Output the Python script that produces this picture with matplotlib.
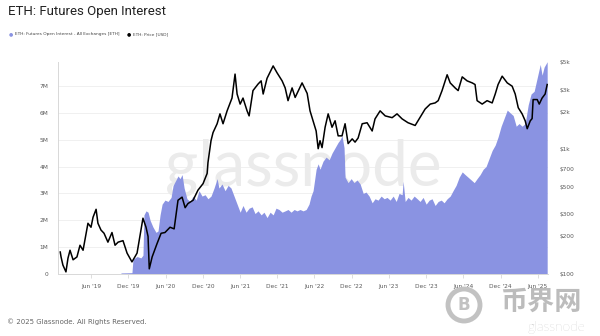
import numpy as np
import pandas as pd
import matplotlib
matplotlib.use('Agg')
import matplotlib.pyplot as plt
import matplotlib.dates as mdates
from matplotlib.patches import Ellipse
from matplotlib.ticker import FixedLocator, NullLocator, FuncFormatter

# ETH futures open interest, all exchanges (million ETH)
oi_dates = [
    '2019-10-26', '2019-12-19', '2019-12-24', '2020-01-13', '2020-02-01', '2020-02-11',
    '2020-02-16', '2020-02-26', '2020-03-07', '2020-03-17', '2020-03-31', '2020-04-15',
    '2020-04-25', '2020-05-05', '2020-05-15', '2020-05-29', '2020-06-13', '2020-06-28',
    '2020-07-08', '2020-07-22', '2020-08-01', '2020-08-11', '2020-08-21', '2020-08-31',
    '2020-09-14', '2020-09-29', '2020-10-14', '2020-10-29', '2020-11-12', '2020-11-27',
    '2020-12-12', '2020-12-26', '2021-01-10', '2021-01-25', '2021-02-09', '2021-02-18',
    '2021-03-05', '2021-03-20', '2021-04-04', '2021-04-18', '2021-05-03', '2021-05-18',
    '2021-06-02', '2021-06-16', '2021-07-01', '2021-07-16', '2021-07-31', '2021-08-14',
    '2021-08-29', '2021-09-13', '2021-09-27', '2021-10-12', '2021-10-27', '2021-11-11',
    '2021-11-25', '2021-12-10', '2021-12-25', '2022-01-09', '2022-01-23', '2022-02-07',
    '2022-02-22', '2022-03-08', '2022-03-23', '2022-04-07', '2022-04-22', '2022-05-06',
    '2022-05-16', '2022-05-26', '2022-06-10', '2022-06-20', '2022-06-29', '2022-07-14',
    '2022-07-29', '2022-08-13', '2022-08-27', '2022-09-11', '2022-09-26', '2022-10-06',
    '2022-10-15', '2022-10-25', '2022-10-30', '2022-11-14', '2022-11-29', '2022-12-13',
    '2022-12-28', '2023-01-12', '2023-01-27', '2023-02-10', '2023-02-25', '2023-03-12',
    '2023-03-26', '2023-04-10', '2023-04-25', '2023-05-10', '2023-05-24', '2023-06-08',
    '2023-06-23', '2023-07-08', '2023-07-22', '2023-08-06', '2023-08-11', '2023-08-21',
    '2023-09-04', '2023-09-19', '2023-10-04', '2023-10-19', '2023-11-02', '2023-11-17',
    '2023-12-02', '2023-12-17', '2023-12-31', '2024-01-15', '2024-01-30', '2024-02-14',
    '2024-02-28', '2024-03-14', '2024-03-29', '2024-04-12', '2024-04-27', '2024-05-12',
    '2024-05-27', '2024-06-10', '2024-06-25', '2024-07-10', '2024-07-25', '2024-08-08',
    '2024-08-23', '2024-09-07', '2024-09-21', '2024-10-06', '2024-10-21', '2024-11-05',
    '2024-11-19', '2024-12-04', '2024-12-19', '2025-01-03', '2025-01-17', '2025-02-01',
    '2025-02-16', '2025-03-02', '2025-03-17', '2025-04-01', '2025-04-16', '2025-04-30',
    '2025-05-15', '2025-05-30', '2025-06-14', '2025-06-23', '2025-07-03', '2025-07-18',
]
oi_million_eth = [
    0.04, 0.05, 0.55, 0.65, 0.60, 0.70,
    2.20, 2.35, 2.30, 2.00, 1.75, 1.55,
    1.60, 2.20, 2.60, 2.75, 2.70, 2.85,
    3.30, 3.50, 3.65, 3.55, 3.70, 3.20,
    2.80, 2.70, 2.90, 2.75, 3.10, 2.90,
    2.95, 2.80, 2.90, 3.20, 3.55, 3.20,
    3.35, 3.10, 3.30, 3.20, 2.90, 2.60,
    2.30, 2.55, 2.30, 2.45, 2.50, 2.25,
    2.35, 2.20, 2.30, 2.10, 2.30, 2.20,
    2.45, 2.40, 2.30, 2.35, 2.40, 2.30,
    2.40, 2.35, 2.40, 2.35, 2.40, 2.60,
    2.90, 3.10, 3.90, 4.10, 3.90, 4.20,
    4.35, 4.25, 4.50, 4.70, 4.90, 5.00,
    5.15, 4.70, 3.60, 3.40, 3.55, 3.40,
    3.50, 3.35, 3.00, 3.05, 2.90, 2.65,
    2.80, 2.75, 2.90, 2.80, 2.85, 2.75,
    2.90, 2.70, 3.00, 2.95, 3.45, 2.70,
    2.85, 2.75, 2.90, 2.80, 2.70, 2.85,
    2.60, 2.75, 2.80, 2.55, 2.70, 2.75,
    2.65, 2.80, 2.90, 3.10, 3.30, 3.60,
    3.80, 3.70, 3.60, 3.50, 3.40, 3.55,
    3.70, 3.90, 4.00, 4.30, 4.60, 4.80,
    5.10, 5.50, 5.80, 6.10, 6.00, 5.90,
    5.50, 5.60, 5.50, 5.60, 6.30, 6.70,
    6.80, 7.30, 7.80, 7.40, 7.70, 7.90,
]

# ETH price (USD)
price_dates = [
    '2019-01-01', '2019-01-05', '2019-01-14', '2019-01-29', '2019-02-08', '2019-02-18',
    '2019-03-05', '2019-03-24', '2019-04-08', '2019-04-23', '2019-05-17', '2019-06-01',
    '2019-06-11', '2019-06-26', '2019-07-05', '2019-07-20', '2019-08-04', '2019-08-23',
    '2019-09-12', '2019-09-27', '2019-10-12', '2019-11-05', '2019-11-25', '2019-12-19',
    '2020-01-13', '2020-02-11', '2020-02-26', '2020-03-07', '2020-03-13', '2020-03-27',
    '2020-04-20', '2020-05-10', '2020-05-29', '2020-06-23', '2020-07-13', '2020-08-01',
    '2020-08-21', '2020-09-05', '2020-09-19', '2020-10-14', '2020-11-07', '2020-12-02',
    '2020-12-22', '2020-12-26', '2021-01-10', '2021-01-20', '2021-02-09', '2021-02-23',
    '2021-03-10', '2021-03-30', '2021-04-23', '2021-05-08', '2021-05-18', '2021-06-02',
    '2021-06-16', '2021-07-06', '2021-07-16', '2021-08-04', '2021-08-29', '2021-09-13',
    '2021-09-23', '2021-10-12', '2021-11-11', '2021-11-30', '2021-12-25', '2022-01-09',
    '2022-01-23', '2022-02-12', '2022-02-27', '2022-04-02', '2022-04-27', '2022-05-11',
    '2022-05-26', '2022-06-10', '2022-06-20', '2022-06-29', '2022-07-09', '2022-07-24',
    '2022-08-08', '2022-08-27', '2022-09-11', '2022-09-26', '2022-10-15', '2022-10-30',
    '2022-11-14', '2022-12-04', '2022-12-18', '2023-01-02', '2023-01-22', '2023-02-15',
    '2023-03-12', '2023-03-26', '2023-04-20', '2023-05-15', '2023-06-18', '2023-07-12',
    '2023-08-06', '2023-09-04', '2023-10-09', '2023-11-02', '2023-11-27', '2023-12-22',
    '2024-01-15', '2024-01-30', '2024-02-18', '2024-03-14', '2024-03-29', '2024-04-22',
    '2024-05-07', '2024-05-27', '2024-06-20', '2024-07-15', '2024-07-29', '2024-08-08',
    '2024-09-02', '2024-09-26', '2024-10-21', '2024-11-05', '2024-11-19', '2024-12-09',
    '2025-01-03', '2025-01-27', '2025-02-11', '2025-02-26', '2025-03-17', '2025-04-01',
    '2025-04-11', '2025-04-26', '2025-05-05', '2025-05-10', '2025-05-30', '2025-06-09',
    '2025-06-23', '2025-07-08', '2025-07-18',
]
price_usd = [
    150, 137, 118, 104, 134, 155,
    130, 137, 170, 155, 255, 237,
    285, 330, 255, 225, 212, 180,
    215, 170, 180, 185, 147, 125,
    147, 280, 237, 200, 110, 137,
    175, 212, 215, 237, 230, 390,
    413, 340, 367, 390, 470, 530,
    640, 780, 1170, 1360, 1600, 1920,
    1600, 2030, 2570, 4000, 2770, 2300,
    2570, 2030, 1850, 2950, 3330, 3530,
    2770, 3700, 4650, 4100, 3530, 3100,
    2450, 3100, 2600, 3400, 2800, 2030,
    1680, 1400, 1010, 1170, 1030, 1500,
    1920, 1500, 1690, 1280, 1280, 1600,
    1110, 1210, 1140, 1230, 1600, 1630,
    1400, 1750, 2030, 1850, 1790, 1920,
    1750, 1630, 1550, 1800, 2100, 2300,
    2350, 2450, 2950, 3950, 3400, 3100,
    2950, 3800, 3530, 3400, 3300, 2450,
    2300, 2450, 2350, 2770, 3300, 3850,
    3400, 3200, 2770, 2150, 1920, 1690,
    1460, 1690, 1760, 2500, 2500, 2300,
    2570, 2770, 3300,
]

oi_ticks = [0, 1, 2, 3, 4, 5, 6, 7]
price_ticks = [100, 200, 300, 500, 700, 1000, 2000, 3000, 5000]
price_tick_labels = ['$100', '$200', '$300', '$500', '$700', '$1k', '$2k', '$3k', '$5k']
date_ticks = [f'{y}-{m:02d}-01' for y in range(2019, 2026) for m in (6, 12)][:-1]

oi_color = '#8a93e2'
label_color = '#5a5a5a'

fig = plt.figure(figsize=(6, 3.36), dpi=100)
ax = fig.add_axes([58 / 600, 1 - 274 / 336, 490 / 600, 212 / 336])

oi_x = pd.to_datetime(oi_dates)
price_x = pd.to_datetime(price_dates)

ax.fill_between(oi_x, 0, oi_million_eth, color=oi_color, lw=0, zorder=2)
ax.set_ylim(0, 7.89)
ax.set_xlim(pd.Timestamp('2018-12-21'), pd.Timestamp('2025-07-22'))
ax.yaxis.set_major_locator(FixedLocator(oi_ticks))
ax.yaxis.set_major_formatter(FuncFormatter(lambda v, p: '0' if v == 0 else f'{int(v)}M'))
ax.grid(axis='y', color='#eeeeee', lw=0.6, zorder=0)
ax.set_axisbelow(True)

ax.xaxis.set_major_locator(FixedLocator(mdates.date2num(pd.to_datetime(date_ticks))))
ax.xaxis.set_major_formatter(mdates.DateFormatter("%b '%y"))
ax.tick_params(axis='x', length=3, width=0.6, color='#d8d8d8', labelsize=4.2,
               labelcolor=label_color, pad=4)
ax.tick_params(axis='y', length=0, labelsize=4.2, labelcolor=label_color, pad=7)
for side in ('top', 'right'):
    ax.spines[side].set_visible(False)
for side in ('left', 'bottom'):
    ax.spines[side].set_color('#d8d8d8')
    ax.spines[side].set_linewidth(0.7)

# faint brand mark behind the series
ax.text(0.5, 0.5, 'glassnode', transform=ax.transAxes, ha='center', va='center',
        fontsize=46, family='Lato', color='#ebebeb', zorder=1)

ax2 = ax.twinx()
ax2.plot(price_x, price_usd, color='black', lw=1.1, zorder=3)
ax2.set_yscale('log')
ax2.set_ylim(100, 5000)
ax2.yaxis.set_major_locator(FixedLocator(price_ticks))
ax2.yaxis.set_minor_locator(NullLocator())
ax2.set_yticklabels(price_tick_labels)
ax2.tick_params(axis='y', which='both', length=0, labelsize=4.2, labelcolor=label_color, pad=8)
for s in ax2.spines.values():
    s.set_visible(False)

# header
fig.text(8 / 600, 1 - 12 / 336, 'ETH: Futures Open Interest', fontsize=9.5, family='Roboto',
         color='#222222', va='center', ha='left')
fig.text(9 / 600, 1 - 34 / 336, '●', fontsize=3.5, color=oi_color, va='center')
fig.text(15 / 600, 1 - 34 / 336, 'ETH: Futures Open Interest - All Exchanges [ETH]',
         fontsize=3.1, color='#444444', va='center')
fig.text(127 / 600, 1 - 34 / 336, '●', fontsize=3.5, color='black', va='center')
fig.text(133 / 600, 1 - 34 / 336, 'ETH: Price [USD]', fontsize=3.1, color='#444444', va='center')

# footer
fig.text(7 / 600, 1 - 322 / 336, '© 2025 Glassnode. All Rights Reserved.', fontsize=5.0,
         color='#666666', va='center')

# corner logo
fig.add_artist(Ellipse((464 / 600, 1 - 305 / 336), 32 / 600, 32 / 336, transform=fig.transFigure,
                       fill=False, lw=3.5, edgecolor='#c2c2c2'))
fig.text(464 / 600, 1 - 305 / 336, 'B', fontsize=12, fontweight='bold', color='#c2c2c2',
         ha='center', va='center')
fig.text(541 / 600, 1 - 302 / 336, '币界网', fontsize=19.5, fontweight='bold',
         family=['Noto Sans CJK SC', 'DejaVu Sans'], color='#bcbcbc', ha='center', va='center')
fig.text(556 / 600, 1 - 327.5 / 336, 'glassnode', fontsize=10, family='Lato', fontweight='light',
         color='#b0b0b0', ha='center', va='center')

fig.savefig('out.png', dpi=100)
